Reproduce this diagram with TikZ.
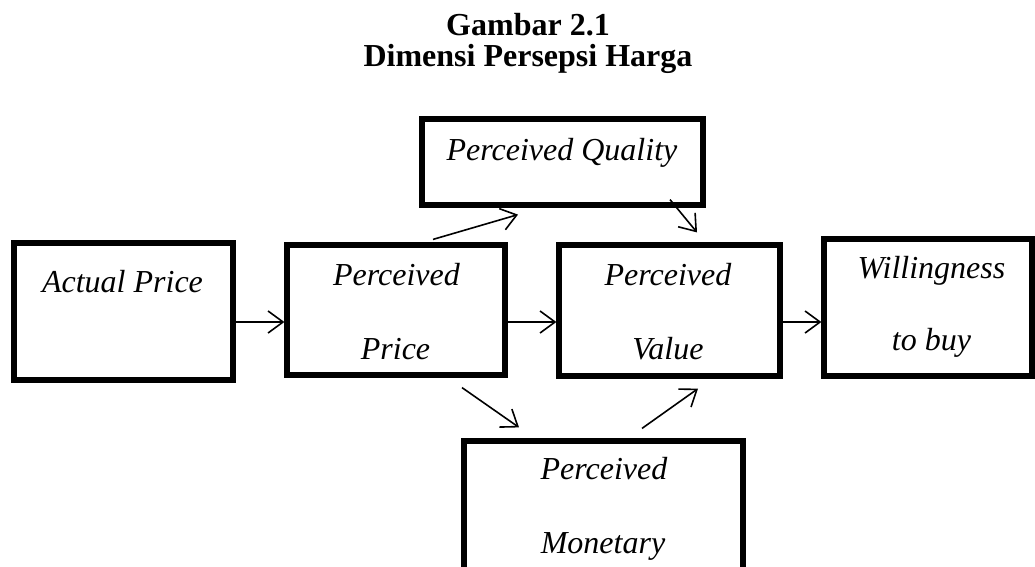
\documentclass[tikz,border=0pt]{standalone}
\usepackage{fontspec}
\setmainfont{Liberation Serif}
\usepackage{tikz}
\usetikzlibrary{calc}
\usetikzlibrary{arrows.meta}
\tikzset{
	box/.style={draw=black, line width=5.2pt, inner sep=0pt, rectangle},
	lbl/.style={anchor=base, inner sep=0pt, font=\fontsize{32}{38}\selectfont\itshape},
	ttl/.style={anchor=base, inner sep=0pt, font=\fontsize{32}{36}\selectfont\bfseries},
	arr/.style={-{Straight Barb[length=15pt, width=22pt, line width=1.6pt]}, line width=1.6pt},
}

\begin{document}
\begin{tikzpicture}[x=1pt, y=-1pt]
			\useasboundingbox (0, 0) rectangle (1035, 566);
			% judul
			\node[ttl] (t1) at (528, 35) {Gambar 2.1};
			\node[ttl] (t2) at (528, 66) {Dimensi Persepsi Harga};
			% kotak
			\node[box, minimum width=219pt, minimum height=137pt] (ap) at (123.5, 311.5) {};
			\node[box, minimum width=218pt, minimum height=130pt] (pp) at (396, 310) {};
			\node[box, minimum width=281pt, minimum height=86pt] (pq) at (562.5, 162) {};
			\node[box, minimum width=221pt, minimum height=131pt] (pv) at (669.5, 310.5) {};
			\node[box, minimum width=208pt, minimum height=137pt] (wb) at (928, 307.5) {};
			\node[box, minimum width=279pt, minimum height=160pt] (pm) at (603.5, 521) {};
			% teks
			\node[lbl] (apa) at (122.5, 292) {Actual Price};
			\node[lbl] (ppa) at (396.5, 285) {Perceived};
			\node[lbl] (ppb) at (395.5, 359) {Price};
			\node[lbl] (pqa) at (562, 160) {Perceived Quality};
			\node[lbl] (pva) at (668, 285) {Perceived};
			\node[lbl] (pvb) at (668, 359) {Value};
			\node[lbl] (wba) at (931.5, 278) {Willingness};
			\node[lbl] (wbb) at (931.5, 350) {to buy};
			\node[lbl] (pma) at (604, 479) {Perceived};
			\node[lbl] (pmb) at (603, 553) {Monetary};
			% panah
			\coordinate (a1) at ($(ap.east)+(0, 10.5)$);
			\coordinate (a2) at ($(pp.east)+(0, 12)$);
			\coordinate (a3) at ($(pv.east)+(-4, 11.5)$);
			\draw[arr] (a1) -- (a1 -| pp.west);
			\draw[arr] (a2) -- (a2 -| pv.west);
			\draw[arr] (a3) -- (a3 -| wb.west);
			\draw[arr] ($(pp.north)+(37, -3)$) -- ($(pq.south)+(-44.5, 7)$);
			\draw[arr] ($(pq.south)+(107.5, -8)$) -- ($(pv.north)+(27.5, -10)$);
			\draw[arr] ($(pp.south)+(66, 10)$) -- ($(pm.north)+(-84.5, -11)$);
			\draw[arr] ($(pm.north)+(38.5, -10)$) -- ($(pv.south)+(28.5, 10)$);
		\end{tikzpicture}
\end{document}
